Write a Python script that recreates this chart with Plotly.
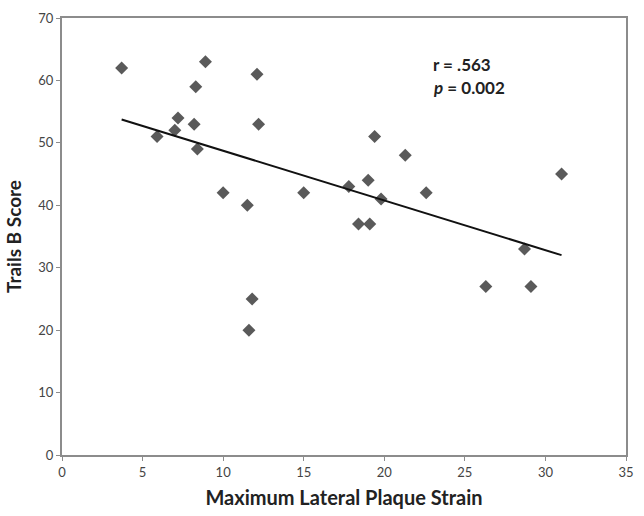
import numpy as np
import plotly.graph_objects as go

strain = [3.7, 5.9, 7.0, 7.2, 8.3, 8.2, 8.4, 8.9, 10.0, 11.5, 12.1, 12.2, 11.8, 11.6,
          15.0, 17.8, 18.4, 19.0, 19.1, 19.4, 19.8, 21.3, 22.6, 26.3, 28.7, 29.1, 31.0]
trails = [62, 51, 52, 54, 59, 53, 49, 63, 42, 40, 61, 53, 25, 20,
          42, 43, 37, 44, 37, 51, 41, 48, 42, 27, 33, 27, 45]

x_ticks = [0, 5, 10, 15, 20, 25, 30, 35]
y_ticks = [0, 10, 20, 30, 40, 50, 60, 70]

slope, intercept = np.polyfit(strain, trails, 1)
fx = np.array([min(strain), max(strain)])
fy = slope * fx + intercept

fig = go.Figure()
fig.add_trace(go.Scatter(x=strain, y=trails, mode="markers",
                         marker=dict(symbol="diamond", size=10, color="#5a5a5a"),
                         showlegend=False))
fig.add_trace(go.Scatter(x=fx, y=fy, mode="lines",
                         line=dict(color="#111111", width=2), showlegend=False))

axis_common = dict(showline=True, linecolor="#8c8c8c", linewidth=2, mirror=True,
                   showgrid=False, zeroline=False, ticks="outside", ticklen=4,
                   tickcolor="#8c8c8c", tickwidth=1,
                   tickfont=dict(family="Lato", size=13, color="#444444"))

fig.update_xaxes(range=[0, 35], tickvals=x_ticks, **axis_common,
                 title=dict(text="<b>Maximum Lateral Plaque Strain</b>",
                            font=dict(family="Lato", size=20, color="#222222"), standoff=12))
fig.update_yaxes(range=[0, 70], tickvals=y_ticks, **axis_common,
                 title=dict(text="<b>Trails B Score</b>",
                            font=dict(family="Lato", size=19, color="#222222"), standoff=12))

fig.add_annotation(x=0.655, y=0.893, xref="paper", yref="paper", xanchor="left", yanchor="middle",
                   showarrow=False, align="left",
                   text="<b>r = .563</b>",
                   font=dict(family="Lato", size=17, color="#222222"))
fig.add_annotation(x=0.655, y=0.84, xref="paper", yref="paper", xanchor="left", yanchor="middle",
                   showarrow=False, align="left",
                   text="<b><i>p</i> = 0.002</b>",
                   font=dict(family="Lato", size=17, color="#222222"))

fig.update_layout(width=644, height=516, margin=dict(l=62, r=10, t=14, b=56),
                  plot_bgcolor="white", paper_bgcolor="white")

fig.write_html("out.html")
